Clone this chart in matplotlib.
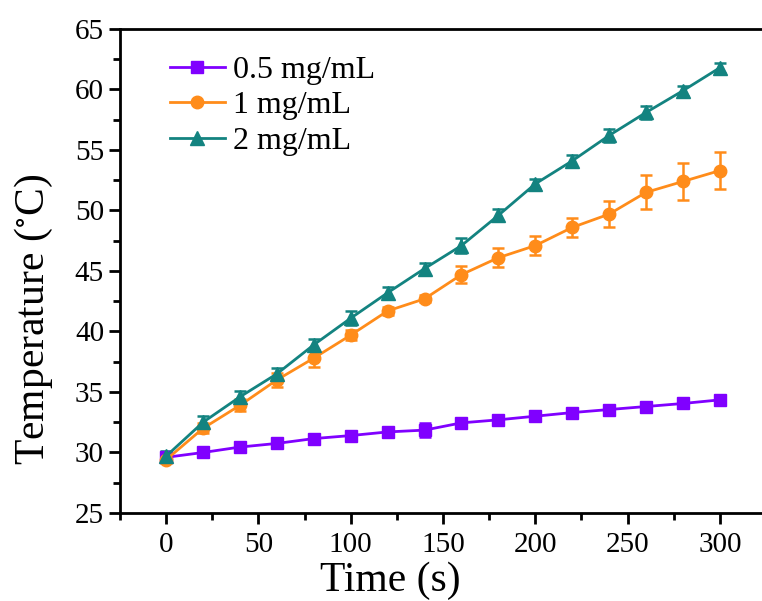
import numpy as np
import matplotlib
matplotlib.use("Agg")
import matplotlib.pyplot as plt
from matplotlib.ticker import MultipleLocator

plt.rcParams['font.family'] = ['Liberation Serif', 'DejaVu Serif']
plt.rcParams['mathtext.fontset'] = 'stix'

# heating curves under irradiation, three concentrations
time_s = [0, 20, 40, 60, 80, 100, 120, 140, 160, 180, 200, 220, 240, 260, 280, 300]

temp_05 = [29.6, 30.0, 30.45, 30.75, 31.15, 31.4, 31.7, 31.85, 32.45, 32.7, 33.0, 33.3, 33.55, 33.8, 34.05, 34.35]
err_05 = [0.2, 0.2, 0.2, 0.2, 0.2, 0.2, 0.2, 0.6, 0.2, 0.2, 0.2, 0.2, 0.2, 0.2, 0.2, 0.2]

temp_1 = [29.4, 32.0, 33.9, 36.0, 37.8, 39.7, 41.7, 42.7, 44.7, 46.1, 47.1, 48.6, 49.7, 51.5, 52.4, 53.3]
err_1 = [0.3, 0.4, 0.5, 0.6, 0.7, 0.4, 0.3, 0.3, 0.7, 0.8, 0.8, 0.8, 1.1, 1.4, 1.5, 1.5]

temp_2 = [29.7, 32.5, 34.6, 36.5, 38.9, 41.1, 43.2, 45.2, 47.1, 49.6, 52.2, 54.1, 56.2, 58.1, 59.9, 61.8]
err_2 = [0.4, 0.5, 0.5, 0.5, 0.5, 0.6, 0.5, 0.5, 0.6, 0.5, 0.4, 0.5, 0.5, 0.5, 0.4, 0.4]

labels = ['0.5 mg/mL', '1 mg/mL', '2 mg/mL']
colors = ['#8000FF', '#FF8C1A', '#138380']
markers = ['s', 'o', '^']

fig = plt.figure(figsize=(7.62, 6.01), dpi=100)
ax = fig.add_axes([120 / 762, 88 / 601, 646 / 762, 484 / 601])

series = [(temp_05, err_05), (temp_1, err_1), (temp_2, err_2)]
handles = []
for (temps, errs), lab, c, m in zip(series, labels, colors, markers):
    eb = ax.errorbar(time_s, temps, yerr=errs, color=c, marker=m,
                     markersize=9 if m != '^' else 10, linewidth=2,
                     elinewidth=1.8, capsize=4, capthick=1.8, label=lab)
    handles.append(eb.lines[0])

ax.set_xlim(-25, 325)
ax.set_ylim(25, 65)
ax.xaxis.set_major_locator(MultipleLocator(50))
ax.xaxis.set_minor_locator(MultipleLocator(25))
ax.yaxis.set_major_locator(MultipleLocator(5))
ax.yaxis.set_minor_locator(MultipleLocator(2.5))
ax.tick_params(which='major', direction='out', length=8, width=2, labelsize=21)
ax.tick_params(which='minor', direction='out', length=5, width=2)
ax.tick_params(axis='x', pad=6)
for s in ax.spines.values():
    s.set_linewidth(2)

ax.set_xlabel('Time (s)', fontsize=30)
ax.set_ylabel(r'Temperature ($^{\circ}$C)', fontsize=30)
ax.xaxis.set_label_coords((390 - 120) / 646, -0.1)
ax.yaxis.set_label_coords(-0.1, 0.40)

ax.legend(handles, labels, loc='upper left', frameon=False, fontsize=23,
          handlelength=1.7, handletextpad=0.25, labelspacing=0.2,
          borderaxespad=0.0, bbox_to_anchor=(0.058, 0.972))

fig.savefig('out.png', dpi=100)
